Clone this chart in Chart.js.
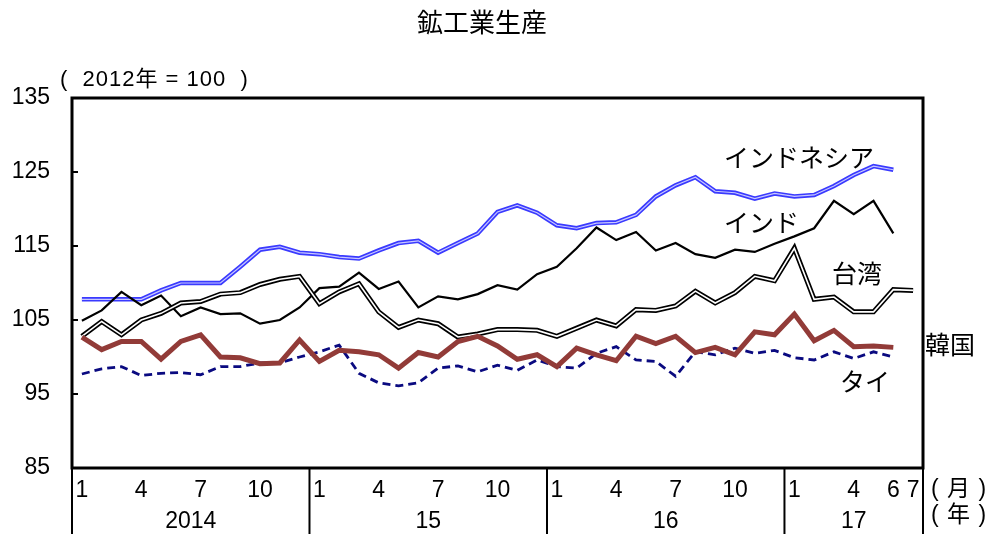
<!DOCTYPE html>
<html>
<head>
<meta charset="utf-8">
<script src="https://cdn.jsdelivr.net/npm/chart.js@4"></script>
<style>
  body { margin: 0; background: #fff; }
  #wrap { width: 995px; height: 534px; }
</style>
</head>
<body>
<div id="wrap"><canvas id="chart"></canvas></div>
<script>
const years = [2014, 2015, 2016, 2017];
const yearLabels = ["2014", "15", "16", "17"];
const shownMonths = [1, 4, 7, 10];
const lastMonths = [6, 7];

// Jan 2014 - Jul 2017
const categories = [];
years.forEach(function (y) {
  for (let m = 1; m <= 12; m++) {
    if (y === 2017 && m > 7) break;
    categories.push({ year: y, month: m });
  }
});

const indonesia = [107.8, 107.8, 107.8, 107.8, 109.0, 110.0, 110.0, 110.0, 112.2, 114.5, 114.9, 114.1,
  113.9, 113.5, 113.3, 114.4, 115.4, 115.7, 114.1, 115.4, 116.7, 119.6, 120.5, 119.5,
  117.8, 117.4, 118.1, 118.2, 119.2, 121.7, 123.2, 124.3, 122.4, 122.2, 121.4, 122.1,
  121.7, 121.9, 123.1, 124.6, 125.8, 125.3];
const india = [104.9, 106.3, 108.8, 107.0, 108.3, 105.5, 106.7, 105.8, 105.9, 104.5, 105.0, 106.7,
  109.3, 109.5, 111.4, 109.2, 110.2, 106.7, 108.2, 107.8, 108.5, 109.7, 109.1, 111.2,
  112.2, 114.7, 117.5, 115.8, 116.9, 114.4, 115.4, 113.9, 113.4, 114.5, 114.2, 115.3,
  116.3, 117.4, 121.1, 119.3, 121.1, 116.7];
const taiwan = [102.8, 104.8, 103.0, 105.0, 105.9, 107.3, 107.5, 108.5, 108.7, 109.8, 110.5, 110.9,
  107.2, 108.8, 109.9, 106.1, 104.0, 105.0, 104.5, 102.7, 103.1, 103.7, 103.7, 103.6,
  102.8, 103.9, 105.0, 104.2, 106.4, 106.3, 106.9, 108.9, 107.3, 108.7, 110.9, 110.3,
  114.7, 107.8, 108.1, 106.1, 106.1, 109.1, 109.0];
const korea = [102.7, 101.0, 102.1, 102.1, 99.7, 102.1, 103.0, 100.0, 99.9, 99.1, 99.2, 102.3,
  99.4, 100.9, 100.7, 100.3, 98.5, 100.6, 100.0, 102.1, 102.8, 101.5, 99.7, 100.3,
  98.7, 101.2, 100.3, 99.5, 102.8, 101.8, 102.8, 100.6, 101.3, 100.3, 103.4, 103.0,
  105.8, 102.2, 103.6, 101.4, 101.5, 101.3];
const thailand = [97.7, 98.4, 98.7, 97.5, 97.8, 97.9, 97.6, 98.7, 98.7, 99.2, 99.2, 100.0,
  100.7, 101.6, 97.8, 96.5, 96.1, 96.5, 98.5, 98.8, 98.0, 98.9, 98.2, 99.6,
  98.7, 98.5, 100.5, 101.4, 99.6, 99.4, 97.4, 100.7, 100.3, 101.2, 100.5, 100.9,
  99.9, 99.6, 100.7, 99.8, 100.7, 100.0];
const yTicks = [85, 95, 105, 115, 125, 135];

const FONT = "'Liberation Sans', Arial, 'Noto Sans CJK JP', sans-serif";
const JP = "'Noto Sans CJK JP', 'Liberation Sans', sans-serif";

const decor = {
  id: "decor",
  afterDraw(chart) {
    const ctx = chart.ctx;
    const a = chart.chartArea;
    const x = chart.scales.x;
    const y = chart.scales.y;
    ctx.save();
    // frame
    ctx.strokeStyle = "#000";
    ctx.lineWidth = 3;
    ctx.strokeRect(a.left, a.top, a.right - a.left, a.bottom - a.top);
    // inner y ticks
    ctx.lineWidth = 2;
    yTicks.forEach(function (v) {
      const py = y.getPixelForValue(v);
      ctx.beginPath();
      ctx.moveTo(a.left, py);
      ctx.lineTo(a.left + 6, py);
      ctx.stroke();
    });
    // year separators and labels
    const bw = (a.right - a.left) / categories.length;
    ctx.lineWidth = 2;
    ctx.fillStyle = "#000";
    ctx.font = "23px " + FONT;
    ctx.textAlign = "center";
    ctx.textBaseline = "middle";
    years.forEach(function (yr, k) {
      const first = categories.findIndex(c => c.year === yr);
      let last = -1;
      categories.forEach((c, i) => { if (c.year === yr) last = i; });
      const x0 = x.getPixelForValue(first) - bw / 2;
      const x1 = x.getPixelForValue(last) + bw / 2;
      ctx.beginPath();
      ctx.moveTo(x0, a.bottom);
      ctx.lineTo(x0, chart.height);
      ctx.stroke();
      ctx.fillText(yearLabels[k], (x0 + x1) / 2, 522);
    });
    ctx.beginPath();
    ctx.moveTo(a.right, a.bottom);
    ctx.lineTo(a.right, chart.height);
    ctx.stroke();

    // texts
    ctx.font = "26px " + JP;
    ctx.fillText("鉱工業生産", 482, 22);
    ctx.textAlign = "left";
    ctx.font = "22px " + FONT;
    ctx.letterSpacing = "1px";
    ctx.fillText("(  2012年 = 100  )", 60, 80);
    ctx.font = "23px " + FONT;
    ctx.fillText("( 月 )", 931, 490);
    ctx.fillText("( 年 )", 931, 516);
    ctx.letterSpacing = "0px";
    ctx.font = "25px " + JP;
    ctx.fillText("インドネシア", 724, 157);
    ctx.fillText("インド", 724, 222);
    ctx.fillText("台湾", 832, 273);
    ctx.fillText("韓国", 925, 344);
    ctx.fillText("タイ", 840, 381);
    ctx.restore();
  }
};

const labels = categories.map(c => c.year + "-" + c.month);

new Chart(document.getElementById("chart"), {
  type: "line",
  data: {
    labels: labels,
    datasets: [
      { label: "インドネシア", data: indonesia, borderColor: "#3a3aff", borderWidth: 4.5, order: 6 },
      { label: "インドネシア内", data: indonesia, borderColor: "#c8c8ff", borderWidth: 1.2, order: 5 },
      { label: "インド", data: india, borderColor: "#000", borderWidth: 2.2, order: 4 },
      { label: "台湾", data: taiwan, borderColor: "#000", borderWidth: 5, order: 3 },
      { label: "台湾内", data: taiwan, borderColor: "#fff", borderWidth: 1.6, order: 2 },
      { label: "タイ", data: thailand, borderColor: "#0a0a80", borderWidth: 2.8, borderDash: [8, 5], order: 1 },
      { label: "韓国", data: korea, borderColor: "#923b38", borderWidth: 5, order: 0 }
    ]
  },
  options: {
    responsive: true,
    maintainAspectRatio: false,
    animation: false,
    events: [],
    layout: { padding: { top: 98, right: 72, left: 0, bottom: 0 } },
    elements: { point: { radius: 0 }, line: { tension: 0, borderCapStyle: "butt", borderJoinStyle: "miter" } },
    plugins: { legend: { display: false }, title: { display: false }, tooltip: { enabled: false } },
    scales: {
      x: {
        offset: true,
        grid: { display: false, drawTicks: false },
        border: { display: false },
        afterFit: function (s) { s.height = 66; },
        ticks: {
          autoSkip: false,
          maxRotation: 0,
          padding: 9,
          color: "#000",
          font: { family: FONT, size: 23 },
          callback: function (v, i) {
            const c = categories[i];
            if (c.year === 2017 && lastMonths.includes(c.month)) return String(c.month);
            if (shownMonths.includes(c.month)) return String(c.month);
            return "";
          }
        }
      },
      y: {
        min: 85,
        max: 135,
        afterFit: function (s) { s.width = 72; },
        afterBuildTicks: function (s) { s.ticks = yTicks.map(v => ({ value: v })); },
        grid: { display: false, drawTicks: false },
        border: { display: false },
        ticks: { padding: 22, color: "#000", font: { family: FONT, size: 23 } }
      }
    }
  },
  plugins: [decor]
});
</script>
</body>
</html>
